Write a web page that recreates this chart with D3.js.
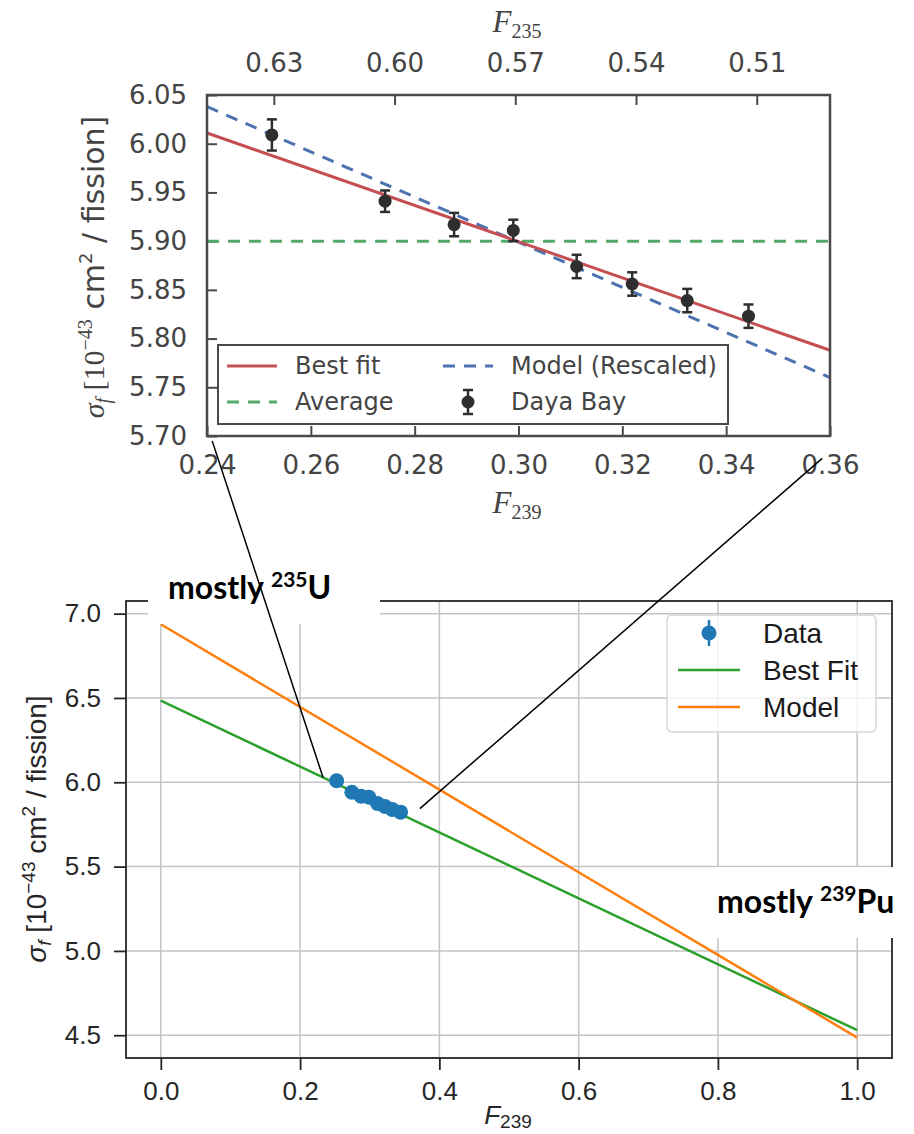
<!DOCTYPE html>
<html>
<head>
<meta charset="utf-8">
<script src="https://cdn.jsdelivr.net/npm/d3@7"></script>
<style>
  html, body { margin: 0; padding: 0; background: #ffffff; }
  svg { display: block; }
</style>
</head>
<body>
<svg id="chart" width="914" height="1134"></svg>
<script>
// Daya Bay points, shared by both panels
const f239 = [0.2525, 0.2743, 0.2876, 0.2990, 0.3112, 0.3219, 0.3325, 0.3443];
const sigma = [6.009, 5.941, 5.917, 5.911, 5.874, 5.856, 5.839, 5.823];
const sigmaErr = [0.016, 0.011, 0.012, 0.011, 0.012, 0.012, 0.012, 0.012];

// top panel lines
const zoomX = [0.24, 0.36];
const bestFitZoom = [6.011, 5.788];
const modelZoom = [6.038, 5.760];
const averageSigma = 5.90;

// top panel ticks
const zoomXTicks = [0.24, 0.26, 0.28, 0.30, 0.32, 0.34, 0.36];
const zoomYTicks = [5.70, 5.75, 5.80, 5.85, 5.90, 5.95, 6.00, 6.05];
const f235Ticks = [0.63, 0.60, 0.57, 0.54, 0.51];
const f235AtEdges = [0.6466, 0.4918];

// bottom panel lines
const fullX = [0, 1];
const bestFitFull = [6.484, 4.53];
const modelFull = [6.937, 4.486];

// bottom panel ticks
const fullXTicks = [0, 0.2, 0.4, 0.6, 0.8, 1.0];
const fullYTicks = [4.5, 5.0, 5.5, 6.0, 6.5, 7.0];

// connectors: [top panel F239, σ] -> [bottom panel F239, σ]
const connectors = [
  { from: [0.241, 5.695], to: [0.233, 6.028] },
  { from: [0.3585, 5.677], to: [0.372, 5.844] }
];

const SANS = 'DejaVu Sans';
const SERIF = 'Liberation Serif';
const ARIAL = 'Liberation Sans';

const svg = d3.select('#chart');

// ---------- top panel ----------
const tx = d3.scaleLinear().domain([0.24, 0.36]).range([207, 830]);
const ty = d3.scaleLinear().domain([5.70, 6.05]).range([436, 95]);
const t235 = d3.scaleLinear().domain(f235AtEdges).range([207, 830]);

const zoomPanel = svg.append('g');

function styleZoomAxis(g) {
  g.select('.domain').remove();
  g.selectAll('.tick line').attr('stroke', '#4a4a4a').attr('stroke-width', 2);
  g.selectAll('.tick text')
    .attr('fill', '#444444')
    .attr('font-family', SANS)
    .attr('font-size', 26);
}

zoomPanel.append('g')
  .attr('transform', 'translate(0,436)')
  .call(d3.axisBottom(tx).tickValues(zoomXTicks).tickFormat(d3.format('.2f')).tickSize(-10).tickPadding(20))
  .call(styleZoomAxis);

zoomPanel.append('g')
  .attr('transform', 'translate(207,0)')
  .call(d3.axisLeft(ty).tickValues(zoomYTicks).tickFormat(d3.format('.2f')).tickSize(-10).tickPadding(20))
  .call(styleZoomAxis);

zoomPanel.append('g')
  .attr('transform', 'translate(0,95)')
  .call(d3.axisTop(t235).tickValues(f235Ticks).tickFormat(d3.format('.2f')).tickSize(-10).tickPadding(23))
  .call(styleZoomAxis);

const zoomLine = d3.line()
  .x((d) => tx(d[0]))
  .y((d) => ty(d[1]));

zoomPanel.append('path')
  .datum([[zoomX[0], averageSigma], [zoomX[1], averageSigma]])
  .attr('d', zoomLine)
  .attr('fill', 'none')
  .attr('stroke', '#55a868')
  .attr('stroke-width', 3)
  .attr('stroke-dasharray', '12 9');

zoomPanel.append('path')
  .datum(zoomX.map((x, i) => [x, modelZoom[i]]))
  .attr('d', zoomLine)
  .attr('fill', 'none')
  .attr('stroke', '#4c72b0')
  .attr('stroke-width', 3)
  .attr('stroke-dasharray', '12 9');

zoomPanel.append('path')
  .datum(zoomX.map((x, i) => [x, bestFitZoom[i]]))
  .attr('d', zoomLine)
  .attr('fill', 'none')
  .attr('stroke', '#c44e52')
  .attr('stroke-width', 3);

const zoomPoints = zoomPanel.append('g')
  .selectAll('g')
  .data(f239.map((x, i) => ({ x, y: sigma[i], e: sigmaErr[i] })))
  .join('g')
  .attr('stroke', '#2e2e2e')
  .attr('fill', '#2e2e2e');

zoomPoints.append('line')
  .attr('x1', (d) => tx(d.x)).attr('x2', (d) => tx(d.x))
  .attr('y1', (d) => ty(d.y - d.e)).attr('y2', (d) => ty(d.y + d.e))
  .attr('stroke-width', 2.5);

zoomPoints.append('line')
  .attr('x1', (d) => tx(d.x) - 5).attr('x2', (d) => tx(d.x) + 5)
  .attr('y1', (d) => ty(d.y + d.e)).attr('y2', (d) => ty(d.y + d.e))
  .attr('stroke-width', 2.5);

zoomPoints.append('line')
  .attr('x1', (d) => tx(d.x) - 5).attr('x2', (d) => tx(d.x) + 5)
  .attr('y1', (d) => ty(d.y - d.e)).attr('y2', (d) => ty(d.y - d.e))
  .attr('stroke-width', 2.5);

zoomPoints.append('circle')
  .attr('cx', (d) => tx(d.x))
  .attr('cy', (d) => ty(d.y))
  .attr('r', 6.5)
  .attr('stroke', 'none');

// legend (top)
const legTop = zoomPanel.append('g');
legTop.append('rect')
  .attr('x', 218).attr('y', 345)
  .attr('width', 510).attr('height', 79)
  .attr('fill', '#ffffff')
  .attr('stroke', '#4a4a4a')
  .attr('stroke-width', 2);

const topLegendItems = [
  { label: 'Best fit', color: '#c44e52', dash: null, x: 227, y: 366 },
  { label: 'Average', color: '#55a868', dash: '12 9', x: 227, y: 402 },
  { label: 'Model (Rescaled)', color: '#4c72b0', dash: '12 9', x: 443, y: 366 },
  { label: 'Daya Bay', color: '#2e2e2e', dash: 'marker', x: 443, y: 402 }
];

topLegendItems.forEach((item) => {
  if (item.dash === 'marker') {
    const cx = item.x + 25;
    legTop.append('line')
      .attr('x1', cx).attr('x2', cx).attr('y1', item.y - 12).attr('y2', item.y + 12)
      .attr('stroke', item.color).attr('stroke-width', 2.5);
    [-12, 12].forEach((off) => {
      legTop.append('line')
        .attr('x1', cx - 5).attr('x2', cx + 5).attr('y1', item.y + off).attr('y2', item.y + off)
        .attr('stroke', item.color).attr('stroke-width', 2.5);
    });
    legTop.append('circle')
      .attr('cx', cx).attr('cy', item.y).attr('r', 6.5)
      .attr('fill', item.color);
  } else {
    legTop.append('line')
      .attr('x1', item.x).attr('x2', item.x + 50)
      .attr('y1', item.y).attr('y2', item.y)
      .attr('stroke', item.color)
      .attr('stroke-width', 3)
      .attr('stroke-dasharray', item.dash);
  }
  legTop.append('text')
    .attr('x', item.x + 68)
    .attr('y', item.y)
    .attr('dominant-baseline', 'central')
    .attr('fill', '#444444')
    .attr('font-family', SANS)
    .attr('font-size', 24)
    .text(item.label);
});

// frame
zoomPanel.append('rect')
  .attr('x', 207).attr('y', 95)
  .attr('width', 623).attr('height', 341)
  .attr('fill', 'none')
  .attr('stroke', '#4a4a4a')
  .attr('stroke-width', 2.5);

// axis titles (top)
const f235Title = zoomPanel.append('text')
  .attr('x', 517).attr('y', 32)
  .attr('text-anchor', 'middle')
  .attr('fill', '#444444')
  .attr('font-family', SERIF)
  .attr('font-size', 31);
f235Title.append('tspan').attr('font-style', 'italic').text('F');
f235Title.append('tspan').attr('font-size', 20).attr('dy', 6).text('235');

const f239Title = zoomPanel.append('text')
  .attr('x', 517).attr('y', 513)
  .attr('text-anchor', 'middle')
  .attr('fill', '#444444')
  .attr('font-family', SERIF)
  .attr('font-size', 31);
f239Title.append('tspan').attr('font-style', 'italic').text('F');
f239Title.append('tspan').attr('font-size', 20).attr('dy', 6).text('239');

const topYTitle = zoomPanel.append('text')
  .attr('transform', 'translate(104,267) rotate(-90)')
  .attr('text-anchor', 'middle')
  .attr('fill', '#444444')
  .attr('font-size', 30);
topYTitle.append('tspan').attr('font-family', SERIF).attr('font-style', 'italic').text('σ');
topYTitle.append('tspan').attr('font-family', SERIF).attr('font-style', 'italic').attr('font-size', 20).attr('dy', 6).text('f');
topYTitle.append('tspan').attr('font-family', SERIF).attr('dy', -6).text(' [10');
topYTitle.append('tspan').attr('font-family', SERIF).attr('font-size', 20).attr('dy', -12).text('−43');
topYTitle.append('tspan').attr('font-family', SANS).attr('dy', 12).text(' cm');
topYTitle.append('tspan').attr('font-family', SANS).attr('font-size', 18).attr('dy', -12).text('2');
topYTitle.append('tspan').attr('font-family', SANS).attr('dy', 12).text(' / fission]');

// ---------- bottom panel ----------
const bx = d3.scaleLinear().domain([-0.05, 1.05]).range([126, 892]);
const by = d3.scaleLinear().domain([4.365, 7.075]).range([1058, 601]);

const fullPanel = svg.append('g');

fullPanel.append('g')
  .selectAll('line')
  .data(fullXTicks)
  .join('line')
  .attr('x1', (d) => bx(d)).attr('x2', (d) => bx(d))
  .attr('y1', 601).attr('y2', 1058)
  .attr('stroke', '#c4c4c4')
  .attr('stroke-width', 1.5);

fullPanel.append('g')
  .selectAll('line')
  .data(fullYTicks)
  .join('line')
  .attr('x1', 126).attr('x2', 892)
  .attr('y1', (d) => by(d)).attr('y2', (d) => by(d))
  .attr('stroke', '#c4c4c4')
  .attr('stroke-width', 1.5);

function styleFullAxis(g) {
  g.select('.domain').remove();
  g.selectAll('.tick line').attr('stroke', '#262626').attr('stroke-width', 1.8);
  g.selectAll('.tick text')
    .attr('fill', '#262626')
    .attr('font-family', ARIAL)
    .attr('font-size', 26);
}

fullPanel.append('g')
  .attr('transform', 'translate(0,1058)')
  .call(d3.axisBottom(bx).tickValues(fullXTicks).tickFormat(d3.format('.1f')).tickSize(12).tickPadding(12))
  .call(styleFullAxis);

fullPanel.append('g')
  .attr('transform', 'translate(126,0)')
  .call(d3.axisLeft(by).tickValues(fullYTicks).tickFormat(d3.format('.1f')).tickSize(12).tickPadding(13))
  .call(styleFullAxis);

const fullLine = d3.line()
  .x((d) => bx(d[0]))
  .y((d) => by(d[1]));

fullPanel.append('path')
  .datum(fullX.map((x, i) => [x, bestFitFull[i]]))
  .attr('d', fullLine)
  .attr('fill', 'none')
  .attr('stroke', '#2ca02c')
  .attr('stroke-width', 2.5);

fullPanel.append('path')
  .datum(fullX.map((x, i) => [x, modelFull[i]]))
  .attr('d', fullLine)
  .attr('fill', 'none')
  .attr('stroke', '#ff7f0e')
  .attr('stroke-width', 2.5);

const fullPoints = fullPanel.append('g')
  .selectAll('g')
  .data(f239.map((x, i) => ({ x, y: sigma[i], e: sigmaErr[i] })))
  .join('g');

fullPoints.append('line')
  .attr('x1', (d) => bx(d.x)).attr('x2', (d) => bx(d.x))
  .attr('y1', (d) => by(d.y - d.e)).attr('y2', (d) => by(d.y + d.e))
  .attr('stroke', '#1f77b4')
  .attr('stroke-width', 2.5);

fullPoints.append('circle')
  .attr('cx', (d) => bx(d.x))
  .attr('cy', (d) => by(d.y))
  .attr('r', 7.5)
  .attr('fill', '#1f77b4');

// legend (bottom)
const legFull = fullPanel.append('g');
legFull.append('rect')
  .attr('x', 667).attr('y', 615)
  .attr('width', 209).attr('height', 117)
  .attr('rx', 5).attr('ry', 5)
  .attr('fill', '#ffffff')
  .attr('fill-opacity', 0.8)
  .attr('stroke', '#d6d6d6')
  .attr('stroke-width', 1.5);

const fullLegendItems = [
  { label: 'Data', color: '#1f77b4', kind: 'marker', y: 633 },
  { label: 'Best Fit', color: '#2ca02c', kind: 'line', y: 670 },
  { label: 'Model', color: '#ff7f0e', kind: 'line', y: 707 }
];

fullLegendItems.forEach((item) => {
  if (item.kind === 'marker') {
    legFull.append('line')
      .attr('x1', 709).attr('x2', 709)
      .attr('y1', item.y - 13).attr('y2', item.y + 13)
      .attr('stroke', item.color).attr('stroke-width', 2.5);
    legFull.append('circle')
      .attr('cx', 709).attr('cy', item.y).attr('r', 7.5)
      .attr('fill', item.color);
  } else {
    legFull.append('line')
      .attr('x1', 678).attr('x2', 740)
      .attr('y1', item.y).attr('y2', item.y)
      .attr('stroke', item.color).attr('stroke-width', 2.5);
  }
  legFull.append('text')
    .attr('x', 763)
    .attr('y', item.y)
    .attr('dominant-baseline', 'central')
    .attr('fill', '#1a1a1a')
    .attr('font-family', ARIAL)
    .attr('font-size', 28)
    .text(item.label);
});

// frame
fullPanel.append('rect')
  .attr('x', 126).attr('y', 601)
  .attr('width', 766).attr('height', 457)
  .attr('fill', 'none')
  .attr('stroke', '#262626')
  .attr('stroke-width', 1.8);

const fullXTitle = fullPanel.append('text')
  .attr('x', 508).attr('y', 1124)
  .attr('text-anchor', 'middle')
  .attr('fill', '#262626')
  .attr('font-family', ARIAL)
  .attr('font-size', 26);
fullXTitle.append('tspan').attr('font-style', 'italic').text('F');
fullXTitle.append('tspan').attr('font-size', 19).attr('dy', 4).text('239');

const fullYTitle = fullPanel.append('text')
  .attr('transform', 'translate(46,829) rotate(-90)')
  .attr('text-anchor', 'middle')
  .attr('fill', '#262626')
  .attr('font-family', ARIAL)
  .attr('font-size', 28);
fullYTitle.append('tspan').attr('font-style', 'italic').text('σ');
fullYTitle.append('tspan').attr('font-style', 'italic').attr('font-size', 19).attr('dy', 5).text('f');
fullYTitle.append('tspan').attr('dy', -5).text(' [10');
fullYTitle.append('tspan').attr('font-size', 19).attr('dy', -11).text('−43');
fullYTitle.append('tspan').attr('dy', 11).text(' cm');
fullYTitle.append('tspan').attr('font-size', 19).attr('dy', -11).text('2');
fullYTitle.append('tspan').attr('dy', 11).text(' / fission]');

// ---------- annotations ----------
const notes = svg.append('g');

notes.append('rect')
  .attr('x', 148).attr('y', 565)
  .attr('width', 232).attr('height', 59)
  .attr('fill', '#ffffff');

notes.append('rect')
  .attr('x', 715).attr('y', 867)
  .attr('width', 199).attr('height', 71)
  .attr('fill', '#ffffff');

function note(x, y, iso, element) {
  const t = notes.append('text')
    .attr('x', x).attr('y', y)
    .attr('fill', '#000000')
    .attr('font-family', 'Lato')
    .attr('font-weight', 700)
    .attr('font-size', 32);
  t.append('tspan').text('mostly ');
  t.append('tspan').attr('font-size', 21).attr('dy', -12).text(iso);
  t.append('tspan').attr('dy', 12).text(element);
}

note(168, 599, '235', 'U');
note(717, 913, '239', 'Pu');

connectors.forEach((c) => {
  notes.append('line')
    .attr('x1', tx(c.from[0])).attr('y1', ty(c.from[1]))
    .attr('x2', bx(c.to[0])).attr('y2', by(c.to[1]))
    .attr('stroke', '#000000')
    .attr('stroke-width', 1.5);
});
</script>
</body>
</html>
